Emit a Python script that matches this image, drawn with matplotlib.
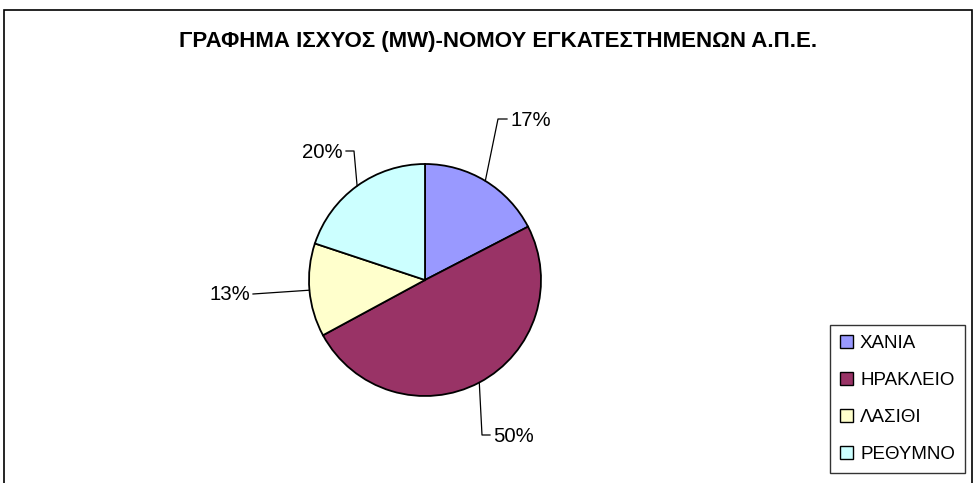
import matplotlib.pyplot as plt
from matplotlib.patches import Rectangle, Patch
import numpy as np

plt.rcParams["font.family"] = ["Liberation Sans", "DejaVu Sans"]

W, H = 976, 483

title = "ΓΡΑΦΗΜΑ ΙΣΧΥΟΣ (MW)-ΝΟΜΟΥ ΕΓΚΑΤΕΣΤΗΜΕΝΩΝ Α.Π.Ε."
regions = ["ΧΑΝΙΑ", "ΗΡΑΚΛΕΙΟ", "ΛΑΣΙΘΙ", "ΡΕΘΥΜΝΟ"]
shares = [17.4, 49.7, 13.0, 19.9]
colors = ["#9999FF", "#993366", "#FFFFCC", "#CCFFFF"]

# label layout (pixel coords, y down): elbow point, line end, text x, text y, align
label_layout = [
    ((498, 119), (507, 119), 510, 121, "left"),
    ((482, 435), (490, 435), 493, 437, "left"),
    (None, (253, 294), 250, 295, "right"),
    ((354, 151), (346, 151), 343, 152, "right"),
]

fig = plt.figure(figsize=(W / 100, H / 100), dpi=100)
ax = fig.add_axes([0, 0, 1, 1])
ax.set_xlim(0, W)
ax.set_ylim(0, H)
ax.axis("off")


def fy(y):
    return H - y


# outer chart frame (bottom runs off the image)
ax.add_patch(Rectangle((4, fy(H + 10)), 968, H, fill=False, ec="black", lw=1.2))

ax.text(498.5, fy(42), title, ha="center", va="center", fontsize=16,
        fontweight="bold")

cx, cy, r = 425, 280, 116
wedges, _ = ax.pie(shares, colors=colors, startangle=90, counterclock=False,
                   center=(cx, fy(cy)), radius=r,
                   wedgeprops=dict(edgecolor="black", linewidth=1.3))
ax.set_aspect("equal")
ax.set_xlim(0, W)
ax.set_ylim(0, H)

total = sum(shares)
for w, v, (elbow, end, tx, ty, ha) in zip(wedges, shares, label_layout):
    mid = np.deg2rad((w.theta1 + w.theta2) / 2)
    sx = cx + r * np.cos(mid)
    sy = fy(cy) + r * np.sin(mid)
    xs, ys = [sx], [sy]
    if elbow is not None:
        xs.append(elbow[0])
        ys.append(fy(elbow[1]))
    xs.append(end[0])
    ys.append(fy(end[1]))
    ax.plot(xs, ys, color="black", lw=0.9)
    ax.text(tx, fy(ty), f"{round(v / total * 100):.0f}%", ha=ha, va="center",
            fontsize=14.7)

handles = [Patch(facecolor=c, edgecolor="black", linewidth=1.0) for c in colors]
leg = ax.legend(handles, regions, loc="upper left",
                bbox_to_anchor=(830 / W, 1 - 325 / H), bbox_transform=fig.transFigure,
                fontsize=13.5, frameon=True, fancybox=False, handlelength=0.7,
                handleheight=0.7, handletextpad=0.35, labelspacing=1.05,
                borderpad=0.55, borderaxespad=0)
leg.get_frame().set_edgecolor("black")
leg.get_frame().set_linewidth(1.0)

fig.savefig("out.png", dpi=100)
